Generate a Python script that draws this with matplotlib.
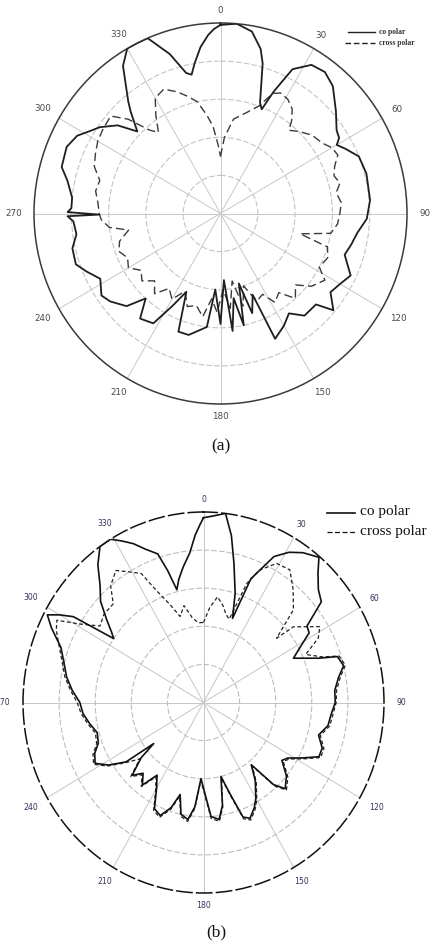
import numpy as np
import matplotlib
matplotlib.use("Agg")
import matplotlib.pyplot as plt

# ---------------- data (degrees, normalised radius) ----------------
a_co_theta = [0, 5, 10, 14, 16, 20, 22, 24, 27, 32, 37, 42, 49, 55, 58, 60, 63, 68, 75, 85,
              92, 98, 103, 108, 115, 120, 125, 130, 133, 140, 145, 150, 156, 158, 162, 165,
              168, 171, 174, 177, 180, 184, 187, 190, 195, 200, 204, 208, 212, 218, 222, 226,
              232, 236, 242, 247, 251, 257, 262, 267, 269, 269.5, 270.5, 272, 276, 282, 286,
              293, 298, 302, 305, 310, 314, 318, 320, 326, 330, 333, 337, 342, 346, 348, 350,
              353, 356, 358, 360]
a_co_r = [0.99, 1.00, 0.97, 0.89, 0.82, 0.62, 0.59, 0.70, 0.85, 0.92, 0.93, 0.90, 0.82, 0.76,
          0.75, 0.72, 0.75, 0.80, 0.81, 0.805, 0.785, 0.74, 0.72, 0.70, 0.77, 0.74, 0.72, 0.79,
          0.70, 0.70, 0.64, 0.68, 0.72, 0.46, 0.55, 0.38, 0.60, 0.45, 0.62, 0.35, 0.58, 0.40,
          0.60, 0.62, 0.66, 0.66, 0.45, 0.55, 0.68, 0.70, 0.60, 0.70, 0.75, 0.77, 0.73, 0.78,
          0.82, 0.815, 0.78, 0.79, 0.82, 0.65, 0.82, 0.80, 0.80, 0.84, 0.886, 0.896, 0.87, 0.82,
          0.79, 0.72, 0.62, 0.72, 0.77, 0.935, 1.00, 1.00, 1.00, 0.88, 0.76, 0.745, 0.80, 0.88,
          0.94, 0.97, 0.99]

a_x_theta = [0, 3, 8, 15, 20, 24, 27, 31, 35, 38, 40, 44, 50, 56, 60, 64, 68, 72, 76, 80, 85,
             90, 95, 100, 104, 107, 112, 118, 122, 128, 133, 138, 143, 148, 152, 157, 162, 166,
             170, 174, 178, 182, 186, 190, 195, 200, 205, 210, 215, 220, 225, 230, 235, 240,
             245, 250, 255, 260, 263, 267, 270, 275, 280, 285, 290, 295, 300, 305, 311, 315,
             319, 322, 326, 330, 335, 340, 344, 348, 352, 355, 358, 360]
a_x_r = [0.30, 0.40, 0.50, 0.55, 0.60, 0.69, 0.71, 0.70, 0.67, 0.62, 0.57, 0.60, 0.64, 0.66,
         0.69, 0.70, 0.66, 0.64, 0.66, 0.63, 0.65, 0.64, 0.63, 0.60, 0.44, 0.60, 0.62, 0.60,
         0.66, 0.62, 0.55, 0.60, 0.52, 0.55, 0.48, 0.50, 0.40, 0.50, 0.36, 0.50, 0.40, 0.52,
         0.45, 0.55, 0.50, 0.52, 0.45, 0.52, 0.48, 0.55, 0.50, 0.55, 0.52, 0.57, 0.55, 0.58,
         0.56, 0.50, 0.60, 0.64, 0.65, 0.66, 0.68, 0.67, 0.72, 0.74, 0.76, 0.77, 0.78, 0.70,
         0.58, 0.54, 0.62, 0.70, 0.72, 0.68, 0.64, 0.60, 0.52, 0.46, 0.36, 0.30]

b_co_theta = [0, 3, 7, 10, 13, 17, 20, 22, 27, 31, 35, 40, 43, 47, 51, 55, 58, 62, 65, 70, 72,
              76, 80, 85, 90, 95, 100, 105, 110, 114, 118, 122, 125, 130, 135, 138, 141, 145,
              150, 153, 157, 160, 163, 166, 169, 172, 176, 179, 182, 185, 188, 192, 195, 198,
              202, 206, 210, 214, 218, 222, 226, 230, 232, 234, 238, 242, 246, 250, 255, 260,
              265, 270, 275, 280, 285, 290, 295, 298, 300, 302, 304, 306, 309, 313, 317, 321,
              325, 329, 332, 335, 338, 342, 344, 346, 348, 351, 354.5, 357, 359, 360]
b_co_r = [0.97, 0.98, 1.00, 0.89, 0.75, 0.60, 0.47, 0.70, 0.86, 0.92, 0.96, 0.995, 0.93, 0.87,
          0.84, 0.70, 0.69, 0.60, 0.55, 0.68, 0.78, 0.80, 0.76, 0.73, 0.73, 0.71, 0.70, 0.66,
          0.70, 0.70, 0.62, 0.55, 0.53, 0.60, 0.64, 0.58, 0.42, 0.50, 0.58, 0.62, 0.66, 0.64,
          0.50, 0.40, 0.55, 0.62, 0.60, 0.48, 0.40, 0.55, 0.62, 0.60, 0.50, 0.58, 0.64, 0.62,
          0.52, 0.46, 0.55, 0.50, 0.55, 0.45, 0.35, 0.53, 0.62, 0.68, 0.66, 0.62, 0.61, 0.64,
          0.67, 0.685, 0.73, 0.77, 0.80, 0.84, 0.93, 0.98, 0.92, 0.85, 0.60, 0.63, 0.69, 0.78,
          0.84, 0.93, 1.00, 1.00, 0.96, 0.92, 0.87, 0.82, 0.72, 0.61, 0.66, 0.72, 0.79, 0.88,
          0.94, 0.97]

b_x_theta = [0, 4, 8, 12, 15, 18, 21, 24, 29, 34.5, 40, 45.7, 50.2, 51.4, 58.3, 62, 66, 70, 72,
             76, 80, 85, 90, 95, 100, 105, 110, 114, 118, 122, 125, 130, 135, 138, 141, 145,
             150, 153, 157, 160, 163, 166, 169, 172, 176, 179, 182, 185, 188, 192, 195, 198,
             202, 206, 210, 214, 218, 222, 226, 230, 234, 238, 242, 246, 250, 255, 260, 265,
             270, 275, 280, 285, 290, 295, 298, 301, 305, 310, 316, 320, 325, 329, 333, 336,
             340, 344, 348, 352, 356, 360]
b_x_r = [0.42, 0.50, 0.56, 0.52, 0.48, 0.46, 0.67, 0.76, 0.835, 0.845, 0.773, 0.696, 0.527,
         0.637, 0.758, 0.72, 0.62, 0.70, 0.79, 0.81, 0.77, 0.74, 0.735, 0.72, 0.71, 0.67,
         0.71, 0.71, 0.63, 0.56, 0.54, 0.61, 0.65, 0.59, 0.43, 0.51, 0.59, 0.63, 0.67, 0.65,
         0.51, 0.41, 0.56, 0.63, 0.61, 0.49, 0.41, 0.56, 0.63, 0.61, 0.51, 0.59, 0.65, 0.63,
         0.53, 0.47, 0.56, 0.51, 0.56, 0.46, 0.54, 0.63, 0.69, 0.67, 0.63, 0.62, 0.65, 0.68,
         0.70, 0.74, 0.78, 0.81, 0.85, 0.90, 0.92, 0.80, 0.70, 0.72, 0.72, 0.80, 0.846, 0.80,
         0.76, 0.645, 0.55, 0.47, 0.52, 0.45, 0.42, 0.42]

angle_ticks = [0, 30, 60, 90, 120, 150, 180, 210, 240, 270, 300, 330]
angle_labels = [str(a) for a in angle_ticks]
ring_levels = [0.2, 0.4, 0.6, 0.8]
legend_labels = ["co polar", "cross polar"]
captions = ["(a)", "(b)"]

W, H = 440, 949
fig = plt.figure(figsize=(W / 100, H / 100), dpi=100)
fig.patch.set_facecolor("white")


def make_polar(box, co_t, co_r, x_t, x_r, spine_ls, spine_col, lab_col, lab_fs,
               co_lw, x_ls, x_lw, co_col, x_col, ring_col, spoke_col):
    l, t, r_, b = box
    ax = fig.add_axes([l / W, 1 - b / H, (r_ - l) / W, (b - t) / H], projection="polar")
    ax.set_aspect("auto")
    ax.set_theta_zero_location("N")
    ax.set_theta_direction(-1)
    ax.set_ylim(0, 1)
    ax.set_rticks(ring_levels)
    ax.set_yticklabels([])
    ax.set_xticks(np.deg2rad(angle_ticks))
    ax.set_xticklabels([])
    ax.tick_params(length=0)
    ax.yaxis.grid(True, color=ring_col, lw=0.8, linestyle=(0, (5, 2)))
    ax.xaxis.grid(True, color=spoke_col, lw=0.7, linestyle="-")
    ax.spines["polar"].set_color(spine_col)
    ax.spines["polar"].set_linewidth(1.1)
    ax.spines["polar"].set_linestyle(spine_ls)
    ax.plot(np.deg2rad(x_t), x_r, color=x_col, lw=x_lw, linestyle=x_ls, zorder=3)
    ax.plot(np.deg2rad(co_t), co_r, color=co_col, lw=co_lw, linestyle="-", zorder=4)
    for a, lab in zip(angle_ticks, angle_labels):
        th = np.deg2rad(a)
        d = 12.5 + len(lab) * 2.6 * abs(np.sin(th))
        ax.annotate(lab, xy=(th, 1.0), xytext=(d * np.sin(th) * 0.72, d * np.cos(th) * 0.72),
                    textcoords="offset points", ha="center", va="center",
                    fontsize=lab_fs, color=lab_col, family="DejaVu Sans", annotation_clip=False)
    return ax


ax1 = make_polar((34, 23, 407, 404), a_co_theta, a_co_r, a_x_theta, a_x_r,
                 "-", "#3a3a3a", "#4a4a4a", 6.3, 1.3, (0, (6, 3)), 1.0,
                 "#1e1e1e", "#3a3a3a", "#c4c4c4", "#c8c8c8")
ax2 = make_polar((23, 512, 384, 893), b_co_theta, b_co_r, b_x_theta, b_x_r,
                 (0, (10, 3)), "#111111", "#3b2f5c", 5.6, 1.2, (0, (3, 2)), 0.9,
                 "#111111", "#222222", "#bdbdbd", "#c6c6c6")


def fx(x):
    return x / W


def fy(y):
    return 1 - y / H


fig.add_artist(plt.Line2D([fx(348), fx(375)], [fy(32), fy(32)], color="#222222", lw=1.0))
fig.add_artist(plt.Line2D([fx(345), fx(375)], [fy(43), fy(43)], color="#222222", lw=1.0,
                          linestyle=(0, (4, 2))))
fig.text(fx(379), fy(32), legend_labels[0], fontsize=5.5, family="Liberation Serif",
         color="#333333", va="center", ha="left", weight="bold")
fig.text(fx(379), fy(43), legend_labels[1], fontsize=5.5, family="Liberation Serif",
         color="#333333", va="center", ha="left", weight="bold")

fig.add_artist(plt.Line2D([fx(327), fx(355)], [fy(513), fy(513)], color="#111111", lw=1.2))
fig.add_artist(plt.Line2D([fx(327), fx(357)], [fy(532), fy(532)], color="#111111", lw=0.9,
                          linestyle=(0, (4, 2))))
fig.text(fx(360), fy(512), legend_labels[0], fontsize=11, family="Liberation Serif",
         color="#111111", va="center", ha="left")
fig.text(fx(360), fy(531), legend_labels[1], fontsize=11, family="Liberation Serif",
         color="#111111", va="center", ha="left")

fig.text(fx(221), fy(446), captions[0], fontsize=12.5, family="Liberation Serif",
         color="#111111", ha="center", va="center")
fig.text(fx(216), fy(932), captions[1], fontsize=12.5, family="Liberation Serif",
         color="#111111", ha="center", va="center")

fig.savefig("out.png", dpi=100, facecolor="white")
